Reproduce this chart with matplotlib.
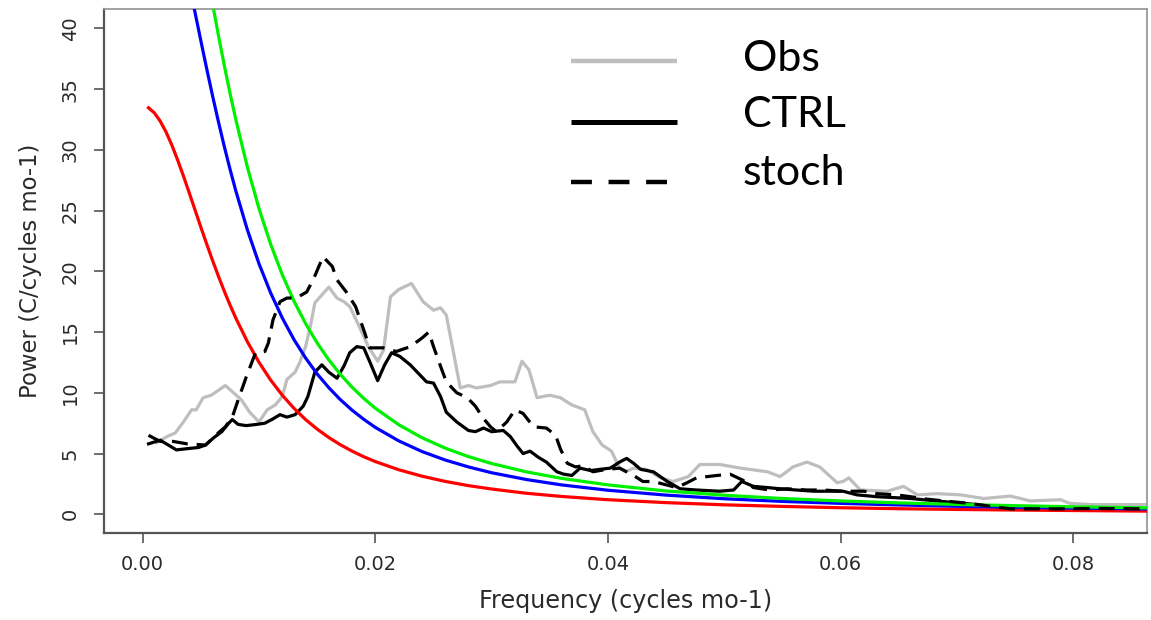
import matplotlib
matplotlib.use("Agg")
import matplotlib.pyplot as plt
from matplotlib.lines import Line2D

# ---- spectra -------------------------------------------------------------
obs_freq = [0.0012, 0.0021, 0.0028, 0.0035, 0.0042, 0.0046, 0.0052, 0.0059, 0.0071, 0.0077,
            0.0085, 0.0092, 0.0100, 0.0107, 0.0114, 0.0120, 0.0124, 0.0131, 0.0135, 0.0140,
            0.0144, 0.0148, 0.0160, 0.0167, 0.0173, 0.0178, 0.0185, 0.0194, 0.0202, 0.0207,
            0.0213, 0.0220, 0.0231, 0.0241, 0.0250, 0.0256, 0.0261, 0.0273, 0.0280, 0.0287,
            0.0299, 0.0307, 0.0320, 0.0326, 0.0332, 0.0339, 0.0350, 0.0359, 0.0369, 0.0380,
            0.0387, 0.0395, 0.0403, 0.0410, 0.0415, 0.0422, 0.0433, 0.0445, 0.0456, 0.0469,
            0.0479, 0.0496, 0.0514, 0.0537, 0.0548, 0.0559, 0.0571, 0.0582, 0.0597, 0.0602,
            0.0607, 0.0617, 0.0640, 0.0654, 0.0666, 0.0683, 0.0703, 0.0723, 0.0746, 0.0763,
            0.0789, 0.0797, 0.0815, 0.0843, 0.0862]
obs_power = [5.9, 6.4, 6.7, 7.6, 8.6, 8.6, 9.6, 9.8, 10.6, 10.1,
             9.4, 8.4, 7.6, 8.6, 9.0, 9.7, 11.1, 11.7, 12.5, 13.8,
             15.4, 17.4, 18.7, 17.8, 17.5, 17.1, 15.7, 13.8, 12.6, 13.5,
             17.9, 18.5, 19.0, 17.5, 16.8, 17.0, 16.4, 10.4, 10.6, 10.4,
             10.6, 10.9, 10.9, 12.6, 11.9, 9.6, 9.8, 9.6, 9.0, 8.6,
             6.8, 5.7, 5.2, 3.8, 3.5, 3.8, 3.7, 3.0, 2.7, 3.1,
             4.1, 4.1, 3.8, 3.5, 3.1, 3.9, 4.3, 3.9, 2.6, 2.7,
             3.0, 2.0, 1.9, 2.3, 1.6, 1.7, 1.6, 1.3, 1.5, 1.1,
             1.2, 0.9, 0.8, 0.8, 0.8]

ctrl_freq = [0.0005, 0.0015, 0.0022, 0.0029, 0.0038, 0.0048, 0.0054, 0.0061, 0.0068, 0.0074,
             0.0077, 0.0082, 0.0089, 0.0098, 0.0105, 0.0111, 0.0118, 0.0124, 0.0131, 0.0138,
             0.0142, 0.0148, 0.0154, 0.0160, 0.0167, 0.0173, 0.0178, 0.0184, 0.0190, 0.0195,
             0.0202, 0.0208, 0.0214, 0.0221, 0.0230, 0.0237, 0.0244, 0.0250, 0.0256, 0.0261,
             0.0270, 0.0280, 0.0286, 0.0293, 0.0300, 0.0310, 0.0316, 0.0322, 0.0327, 0.0333,
             0.0340, 0.0347, 0.0356, 0.0362, 0.0369, 0.0376, 0.0385, 0.0393, 0.0402, 0.0410,
             0.0416, 0.0422, 0.0428, 0.0439, 0.0451, 0.0462, 0.0476, 0.0496, 0.0508, 0.0515,
             0.0525, 0.0537, 0.0548, 0.0562, 0.0577, 0.0602, 0.0614, 0.0631, 0.0660, 0.0688,
             0.0717, 0.0746, 0.0789, 0.0823, 0.0862]
ctrl_power = [5.8, 6.1, 5.7, 5.3, 5.4, 5.5, 5.7, 6.3, 6.8, 7.5,
              7.8, 7.4, 7.3, 7.4, 7.5, 7.8, 8.2, 8.0, 8.2, 8.9,
              9.7, 11.7, 12.3, 11.7, 11.2, 12.2, 13.3, 13.8, 13.7, 12.6,
              11.0, 12.3, 13.3, 13.0, 12.3, 11.6, 10.9, 10.8, 9.7, 8.4,
              7.6, 6.9, 6.8, 7.1, 6.8, 6.9, 6.4, 5.6, 5.0, 5.2,
              4.7, 4.3, 3.5, 3.3, 3.2, 3.8, 3.6, 3.7, 3.8, 4.3,
              4.6, 4.2, 3.7, 3.5, 2.7, 2.1, 2.0, 1.9, 2.0, 2.7,
              2.3, 2.2, 2.1, 2.0, 1.9, 1.9, 1.6, 1.45, 1.3, 1.05,
              0.8, 0.5, 0.52, 0.48, 0.48]

stoch_freq = [0.0005, 0.0015, 0.0026, 0.0038, 0.0054, 0.0065, 0.0071, 0.0077, 0.0082, 0.0089,
              0.0097, 0.0105, 0.0108, 0.0112, 0.0118, 0.0124, 0.0132, 0.0141, 0.0147, 0.0155,
              0.0163, 0.0167, 0.0175, 0.0183, 0.0191, 0.0195, 0.0207, 0.0218, 0.0230, 0.0240,
              0.0246, 0.0250, 0.0256, 0.0261, 0.0270, 0.0279, 0.0286, 0.0292, 0.0299, 0.0304,
              0.0313, 0.0320, 0.0327, 0.0336, 0.0347, 0.0355, 0.0359, 0.0365, 0.0372, 0.0379,
              0.0387, 0.0399, 0.0410, 0.0422, 0.0430, 0.0439, 0.0451, 0.0459, 0.0468, 0.0476,
              0.0494, 0.0505, 0.0516, 0.0525, 0.0539, 0.0554, 0.0571, 0.0585, 0.0602, 0.0620,
              0.0631, 0.0648, 0.0660, 0.0674, 0.0694, 0.0711, 0.0729, 0.0746, 0.0789, 0.0823,
              0.0862]
stoch_power = [6.5, 6.0, 6.0, 5.8, 5.7, 6.7, 7.2, 8.0, 9.4, 11.3,
               13.3, 13.4, 14.1, 16.0, 17.5, 17.8, 17.8, 18.3, 19.4, 21.2,
               20.4, 19.3, 18.3, 17.1, 14.9, 13.7, 13.7, 13.4, 13.8, 14.5,
               15.0, 13.8, 12.2, 10.9, 10.0, 9.6, 8.9, 8.0, 7.2, 6.8,
               7.6, 8.6, 8.3, 7.2, 7.1, 6.5, 5.4, 4.2, 3.9, 4.0,
               3.5, 3.7, 3.8, 3.2, 2.7, 2.7, 2.4, 2.2, 2.6, 3.0,
               3.2, 3.3, 2.8, 2.2, 2.0, 2.1, 2.0, 2.0, 1.9, 1.9,
               1.7, 1.6, 1.45, 1.25, 1.05, 0.9, 0.65, 0.45, 0.45, 0.48,
               0.45]

# ---- reference red-noise spectra ----------------------------------------------
ref_freq = [0.0005, 0.0010, 0.0015, 0.0020, 0.0025, 0.0030, 0.0035, 0.0040, 0.0045, 0.0050,
            0.0055, 0.0060, 0.0065, 0.0070, 0.0075, 0.0080, 0.0090, 0.0100, 0.0110, 0.0120,
            0.0130, 0.0140, 0.0150, 0.0160, 0.0170, 0.0180, 0.0190, 0.0200, 0.0220, 0.0240,
            0.0260, 0.0280, 0.0300, 0.0330, 0.0360, 0.0400, 0.0450, 0.0500, 0.0550, 0.0600,
            0.0650, 0.0700, 0.0750, 0.0800, 0.0865]
red_power = [33.46, 33.04, 32.37, 31.48, 30.40, 29.17, 27.85, 26.46, 25.05, 23.63,
             22.25, 20.91, 19.62, 18.40, 17.24, 16.16, 14.20, 12.51, 11.05, 9.80,
             8.73, 7.80, 7.01, 6.32, 5.72, 5.20, 4.74, 4.34, 3.67, 3.14,
             2.71, 2.36, 2.08, 1.73, 1.47, 1.20, 0.96, 0.78, 0.65, 0.54,
             0.46, 0.40, 0.35, 0.31, 0.26]
blue_power = [55.17, 54.48, 53.37, 51.90, 50.12, 48.10, 45.91, 43.63, 41.30, 38.97,
              36.68, 34.47, 32.35, 30.33, 28.43, 26.64, 23.41, 20.62, 18.22, 16.16,
              14.39, 12.87, 11.55, 10.42, 9.43, 8.57, 7.82, 7.15, 6.05, 5.17,
              4.47, 3.90, 3.42, 2.86, 2.42, 1.98, 1.58, 1.28, 1.06, 0.90,
              0.77, 0.66, 0.58, 0.51, 0.44]
green_power = [67.32, 66.48, 65.13, 63.33, 61.15, 58.69, 56.02, 53.23, 50.39, 47.55,
               44.76, 42.06, 39.47, 37.01, 34.69, 32.51, 28.57, 25.16, 22.23, 19.72,
               17.56, 15.70, 14.10, 12.71, 11.51, 10.46, 9.54, 8.73, 7.38, 6.31,
               5.45, 4.75, 4.18, 3.49, 2.96, 2.42, 1.92, 1.57, 1.30, 1.10,
               0.94, 0.81, 0.71, 0.62, 0.53]

x_ticks = [0.00, 0.02, 0.04, 0.06, 0.08]
x_tick_labels = ["0.00", "0.02", "0.04", "0.06", "0.08"]
y_ticks = [0, 5, 10, 15, 20, 25, 30, 35, 40]
legend_labels = ["Obs", "CTRL", "stoch"]

# ---- figure ------------------------------------------------------------------
W, H = 1151, 620
fig = plt.figure(figsize=(W / 100, H / 100), dpi=100)
ax = fig.add_axes([104 / W, 1 - 533 / H, (1147 - 104) / W, (533 - 9) / H])

obs_color = "#bebebe"
ax.plot(obs_freq, obs_power, color=obs_color, lw=2.3, zorder=2)
ax.plot(ctrl_freq, ctrl_power, color="black", lw=2.3, zorder=3)
ax.plot(ref_freq, red_power, color="#ff0000", lw=2.3, zorder=4)
ax.plot(ref_freq, blue_power, color="#0000ff", lw=2.3, zorder=4)
ax.plot(ref_freq, green_power, color="#00f000", lw=2.3, zorder=4)
ax.plot(stoch_freq, stoch_power, color="black", lw=2.3,
        linestyle=(0, (5, 2.8)), zorder=5)

ax.set_xlim(-0.003327, 0.086336)
ax.set_ylim(-1.539, 41.59)

ax.set_xticks(x_ticks)
ax.set_xticklabels(x_tick_labels)
ax.set_yticks(y_ticks)

text_color = "#2a2a2a"
ax.tick_params(axis="both", direction="out", length=7.5, width=1.2,
               color="#555555", labelsize=14, labelcolor=text_color)
ax.tick_params(axis="x", pad=8.5)
ax.tick_params(axis="y", pad=10, labelrotation=90)
for lab in ax.get_yticklabels():
    lab.set_va("center")

for side in ("left", "bottom"):
    ax.spines[side].set_color("#555555")
    ax.spines[side].set_linewidth(1.6)
for side in ("top", "right"):
    ax.spines[side].set_color("#9a9a9a")
    ax.spines[side].set_linewidth(1.3)

ax.set_xlabel("Frequency (cycles mo-1)", fontsize=17.2, color=text_color)
ax.set_ylabel("Power (C/cycles mo-1)", fontsize=16.4, color=text_color)
ax.xaxis.set_label_coords(0.5, -0.107)
ax.yaxis.set_label_coords(-0.0594, 0.5)

# ---- legend drawn by hand ---------------------------------------------------
leg_styles = [
    dict(color=obs_color, lw=3.2, linestyle="-"),
    dict(color="black", lw=3.6, linestyle="-"),
    dict(color="black", lw=3.2, linestyle=(0, (4.7, 3.75))),
]
leg_line_y = [61, 122, 182]
leg_line_end = [677, 677, 667]
leg_text_base = [70.7, 126.7, 185]
for label, style, ly, lx1, tb in zip(legend_labels, leg_styles, leg_line_y,
                                     leg_line_end, leg_text_base):
    fig.add_artist(Line2D([571 / W, lx1 / W], [1 - ly / H, 1 - ly / H],
                          transform=fig.transFigure, solid_capstyle="butt",
                          dash_capstyle="butt", **style))
    fig.text(743 / W, 1 - tb / H, label, fontsize=31, family="Lato",
             color="black", ha="left", va="baseline")

fig.savefig("out.png", dpi=100)
